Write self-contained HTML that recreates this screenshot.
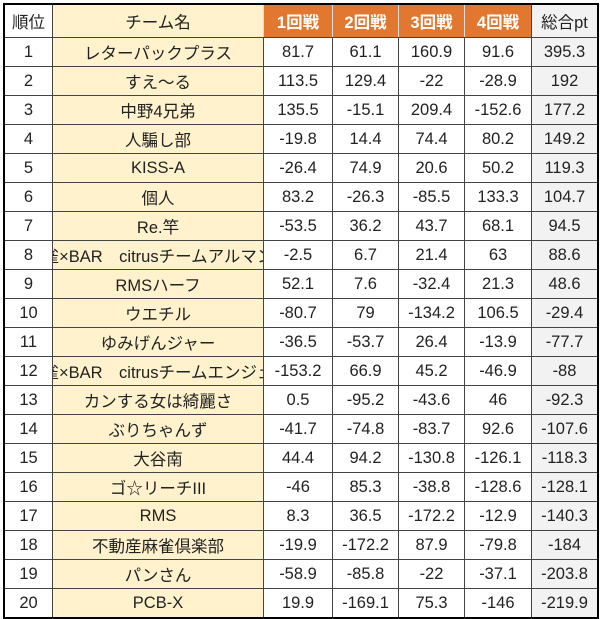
<!DOCTYPE html>
<html><head><meta charset="utf-8"><style>
body{margin:0;background:#fff;width:600px;height:619px;overflow:hidden;font-family:"Liberation Sans","Noto Sans CJK JP",sans-serif;}
#t{position:absolute;left:3px;top:3px;width:592px;border:2px solid #000;}
.r{display:flex;height:29px;border-top:1px solid #444;box-sizing:border-box;}
.r.h{height:32px;border-top:none;}
.r div{flex:none;box-sizing:border-box;border-left:1px solid #444;display:flex;align-items:center;justify-content:center;overflow:hidden;white-space:nowrap;font-size:16.5px;color:#222;}
.r div:first-child{border-left:none;}
.r div:nth-child(1){width:47px}
.r div:nth-child(2){width:211px;background:#FFF2CC}
.r div:nth-child(3){width:69px}
.r div:nth-child(4){width:66px}
.r div:nth-child(5){width:66px}
.r div:nth-child(6){width:67px}
.r div:nth-child(7){width:66px;background:#F2F2F2}
.r.h div.o{background:#E2782F;color:#fff;font-weight:bold;border-left-color:#ddd;}
.r div span{flex:none;}
</style></head><body>
<div id="t">
<div class="r h"><div>順位</div><div>チーム名</div><div class="o">1回戦</div><div class="o">2回戦</div><div class="o">3回戦</div><div class="o">4回戦</div><div>総合pt</div></div>
<div class="r"><div>1</div><div>レターパックプラス</div><div>81.7</div><div>61.1</div><div>160.9</div><div>91.6</div><div>395.3</div></div>
<div class="r"><div>2</div><div>すえ～る</div><div>113.5</div><div>129.4</div><div>-22</div><div>-28.9</div><div>192</div></div>
<div class="r"><div>3</div><div>中野4兄弟</div><div>135.5</div><div>-15.1</div><div>209.4</div><div>-152.6</div><div>177.2</div></div>
<div class="r"><div>4</div><div>人騙し部</div><div>-19.8</div><div>14.4</div><div>74.4</div><div>80.2</div><div>149.2</div></div>
<div class="r"><div>5</div><div>KISS-A</div><div>-26.4</div><div>74.9</div><div>20.6</div><div>50.2</div><div>119.3</div></div>
<div class="r"><div>6</div><div>個人</div><div>83.2</div><div>-26.3</div><div>-85.5</div><div>133.3</div><div>104.7</div></div>
<div class="r"><div>7</div><div>Re.竿</div><div>-53.5</div><div>36.2</div><div>43.7</div><div>68.1</div><div>94.5</div></div>
<div class="r"><div>8</div><div><span>麻雀×BAR　citrusチームアルマンド</span></div><div>-2.5</div><div>6.7</div><div>21.4</div><div>63</div><div>88.6</div></div>
<div class="r"><div>9</div><div>RMSハーフ</div><div>52.1</div><div>7.6</div><div>-32.4</div><div>21.3</div><div>48.6</div></div>
<div class="r"><div>10</div><div>ウエチル</div><div>-80.7</div><div>79</div><div>-134.2</div><div>106.5</div><div>-29.4</div></div>
<div class="r"><div>11</div><div>ゆみげんジャー</div><div>-36.5</div><div>-53.7</div><div>26.4</div><div>-13.9</div><div>-77.7</div></div>
<div class="r"><div>12</div><div><span>麻雀×BAR　citrusチームエンジェル</span></div><div>-153.2</div><div>66.9</div><div>45.2</div><div>-46.9</div><div>-88</div></div>
<div class="r"><div>13</div><div>カンする女は綺麗さ</div><div>0.5</div><div>-95.2</div><div>-43.6</div><div>46</div><div>-92.3</div></div>
<div class="r"><div>14</div><div>ぶりちゃんず</div><div>-41.7</div><div>-74.8</div><div>-83.7</div><div>92.6</div><div>-107.6</div></div>
<div class="r"><div>15</div><div>大谷南</div><div>44.4</div><div>94.2</div><div>-130.8</div><div>-126.1</div><div>-118.3</div></div>
<div class="r"><div>16</div><div>ゴ☆リーチIII</div><div>-46</div><div>85.3</div><div>-38.8</div><div>-128.6</div><div>-128.1</div></div>
<div class="r"><div>17</div><div>RMS</div><div>8.3</div><div>36.5</div><div>-172.2</div><div>-12.9</div><div>-140.3</div></div>
<div class="r"><div>18</div><div>不動産麻雀倶楽部</div><div>-19.9</div><div>-172.2</div><div>87.9</div><div>-79.8</div><div>-184</div></div>
<div class="r"><div>19</div><div>パンさん</div><div>-58.9</div><div>-85.8</div><div>-22</div><div>-37.1</div><div>-203.8</div></div>
<div class="r"><div>20</div><div>PCB-X</div><div>19.9</div><div>-169.1</div><div>75.3</div><div>-146</div><div>-219.9</div></div>
</div>
</body></html>
